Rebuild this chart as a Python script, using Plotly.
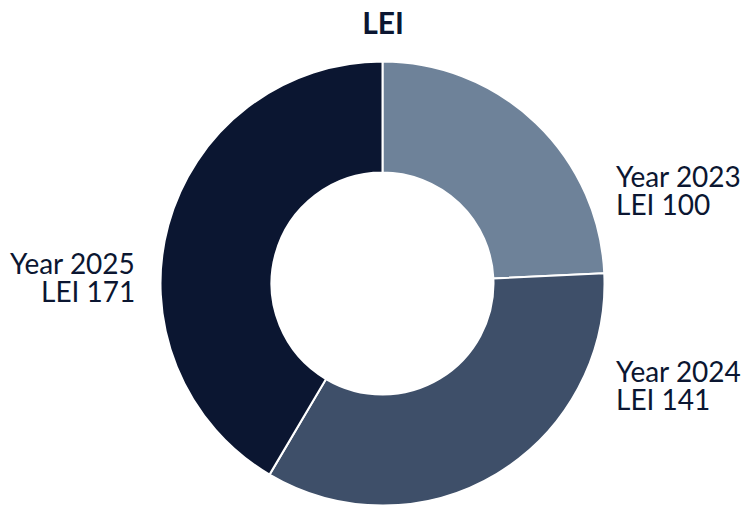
import plotly.graph_objects as go

years = ["2023", "2024", "2025"]
lei_values = [100, 141, 171]
colors = ["#6E8299", "#3E4F69", "#0B1631"]

# label placement (pixels in a 747x506 canvas): x, y of first line, anchor
label_pos = [(614, 176, "left"), (614, 371, "left"), (137, 263, "right")]
W, H = 747, 506
FONT = "Lato"
TXT = "#0B1631"

fig = go.Figure(go.Pie(
    labels=years,
    values=lei_values,
    hole=0.5,
    sort=False,
    direction="clockwise",
    rotation=0,
    marker=dict(colors=colors, line=dict(color="white", width=2)),
    textinfo="none",
    hoverinfo="label+value",
    domain=dict(x=[160.5 / W, 604.5 / W], y=[0.5 / H, 1 - 61.5 / H]),
    showlegend=False,
))

anns = []
for yr, v, (px, py, anc) in zip(years, lei_values, label_pos):
    for i, line in enumerate([f"Year {yr}", f"LEI {v}"]):
        anns.append(dict(
            text=line, x=px / W, y=1 - (py + 28 * i) / H, xref="paper", yref="paper",
            xanchor=anc, yanchor="middle", showarrow=False,
            font=dict(family=FONT, size=28, color=TXT),
        ))

fig.update_layout(
    width=W, height=H,
    margin=dict(l=0, r=0, t=0, b=0),
    paper_bgcolor="white",
    annotations=anns,
    title=dict(text="<b>LEI</b>", x=383 / W, xanchor="center", y=1 - 23.5 / H, yanchor="middle",
               font=dict(family=FONT, size=30, color=TXT)),
)

fig.write_html("out.html")
